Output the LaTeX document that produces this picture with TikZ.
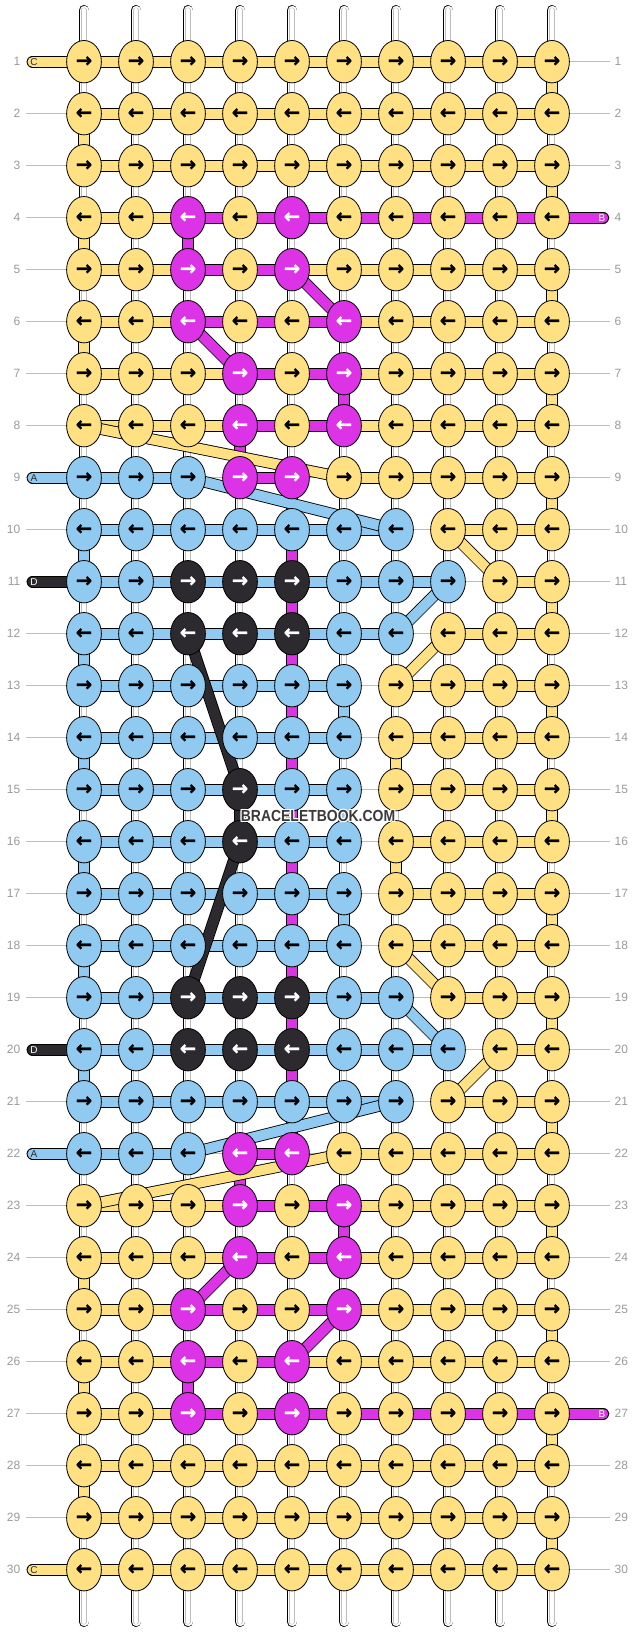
\documentclass[tikz,border=0pt]{standalone}
\usepackage{fontspec}
\setmainfont{Liberation Sans}
\newfontfamily\arw{DejaVu Sans}[BoldFeatures={FakeBold=1.3}]
\usetikzlibrary{shapes.geometric}
\definecolor{cy}{HTML}{FFE082}
\definecolor{cm}{HTML}{DC33E6}
\definecolor{cb}{HTML}{90CAF0}
\definecolor{ck}{HTML}{2C2A2E}
\definecolor{gl}{HTML}{BDBDBD}
\definecolor{gt}{HTML}{9A9A9A}
\definecolor{wmg}{HTML}{3A3A3A}
\pgfdeclarelayer{l0}\pgfdeclarelayer{l1}\pgfdeclarelayer{l2}\pgfdeclarelayer{l3}\pgfdeclarelayer{l4}
\pgfsetlayers{l0,l1,l2,l3,l4,main}
\begin{document}
\begin{tikzpicture}[x=1pt,y=-1pt,
  knot/.style={ellipse, draw=black, line width=0.8pt, minimum width=34.8pt, minimum height=42.4pt, inner sep=0pt, font=\arw\bfseries\fontsize{19.5}{19.5}\selectfont},
  ny/.style={knot, fill=cy, text=black},
  nm/.style={knot, fill=cm, text=white},
  nb/.style={knot, fill=cb, text=black},
  nk/.style={knot, fill=ck, text=white},
  band/.style={draw=black, line width=0.85pt, double distance=10pt},
  sy/.style={band, double=cy}, sm/.style={band, double=cm},
  sb/.style={band, double=cb}, sk/.style={band, double=ck},
  sn/.style={draw=none},
  warp/.style={draw=black, line width=0.85pt, double=white, double distance=9pt,
    postaction={draw=gl, line width=0.5pt, double=white, double distance=4.6pt}},
  rowline/.style={draw=gl, line width=0.8pt},
  rowno/.style={text=gt, font=\fontsize{12}{12}\selectfont, inner sep=0pt},
  tag/.style={font=\fontsize{10}{10}\selectfont, inner sep=0pt},
  wm/.style={inner sep=0pt, font=\bfseries\fontsize{16}{16}\selectfont}
]
\useasboundingbox (0,0) rectangle (636,1632);
\begin{pgfonlayer}{l0}
\fill[white] (0,0) rectangle (636,1632);
\end{pgfonlayer}

% ---------- knots ----------
\foreach \row [count=\r] in {
 {y,y,y,y,y,y,y,y,y,y},{y,y,y,y,y,y,y,y,y,y},{y,y,y,y,y,y,y,y,y,y},
 {y,y,m,y,m,y,y,y,y,y},{y,y,m,y,m,y,y,y,y,y},{y,y,m,y,y,m,y,y,y,y},
 {y,y,y,m,y,m,y,y,y,y},{y,y,y,m,y,m,y,y,y,y},{b,b,b,m,m,y,y,y,y,y},
 {b,b,b,b,b,b,b,y,y,y},{b,b,k,k,k,b,b,b,y,y},{b,b,k,k,k,b,b,y,y,y},
 {b,b,b,b,b,b,y,y,y,y},{b,b,b,b,b,b,y,y,y,y},{b,b,b,k,b,b,y,y,y,y},
 {b,b,b,k,b,b,y,y,y,y},{b,b,b,b,b,b,y,y,y,y},{b,b,b,b,b,b,y,y,y,y},
 {b,b,k,k,k,b,b,y,y,y},{b,b,k,k,k,b,b,b,y,y},{b,b,b,b,b,b,b,y,y,y},
 {b,b,b,m,m,y,y,y,y,y},{y,y,y,m,y,m,y,y,y,y},{y,y,y,m,y,m,y,y,y,y},
 {y,y,m,y,y,m,y,y,y,y},{y,y,m,y,m,y,y,y,y,y},{y,y,m,y,m,y,y,y,y,y},
 {y,y,y,y,y,y,y,y,y,y},{y,y,y,y,y,y,y,y,y,y},{y,y,y,y,y,y,y,y,y,y}}{
  \foreach \col [count=\c] in \row {
    \node[n\col] (k-\r-\c) at ({84+52*(\c-1)},{61.7+52*(\r-1)}) {\ifodd\r →\else ←\fi};
  }
  \coordinate (gl-\r) at (26,{61.7+52*(\r-1)});
  \coordinate (gr-\r) at (610,{61.7+52*(\r-1)});
  \node[rowno, anchor=east] (lab-l-\r) at (20.5,{61.7+52*(\r-1)}) {\r};
  \node[rowno, anchor=west] (lab-r-\r) at (614.5,{61.7+52*(\r-1)}) {\r};
}

% ---------- row guide lines ----------
\begin{pgfonlayer}{l0}
\foreach \r in {1,...,30} \draw[rowline] (gl-\r) -- (gr-\r);
\end{pgfonlayer}

% ---------- warp strings ----------
\foreach \c in {1,...,10}{
  \coordinate (wt-\c) at ({84+52*(\c-1)},10.3);
  \coordinate (wb-\c) at ({84+52*(\c-1)},1621.7);
}
\begin{pgfonlayer}{l1}
\foreach \c in {1,...,10}{
  \draw[warp, line cap=round] (wt-\c) -- (k-1-\c.center);
  \draw[warp, line cap=round] (k-30-\c.center) -- (wb-\c);
  \foreach \r in {1,...,29}{
    \pgfmathtruncatemacro\rn{\r+1}
    \draw[warp] (k-\r-\c.center) -- (k-\rn-\c.center);
  }
}
\end{pgfonlayer}

% ---------- coloured vertical passages ----------
\begin{pgfonlayer}{l2}
\foreach \r/\c/\k in {1/10/y,2/1/y,3/10/y,4/1/y,5/10/y,6/1/y,7/10/y,9/10/y,11/10/y,13/10/y,
  14/7/y,15/10/y,16/7/y,17/10/y,19/10/y,21/10/y,23/10/y,24/1/y,25/10/y,26/1/y,27/10/y,28/1/y,29/10/y,
  10/1/b,12/1/b,13/6/b,14/1/b,15/6/b,16/1/b,17/6/b,18/1/b,20/1/b,
  4/3/m,7/6/m,8/4/m,9/5/m,10/5/m,11/5/m,12/5/m,13/5/m,14/5/m,15/5/m,16/5/m,17/5/m,
  18/5/m,19/5/m,20/5/m,21/5/m,22/4/m,23/6/m,26/3/m,
  15/4/k}{
  \pgfmathtruncatemacro\rn{\r+1}
  \draw[s\k] (k-\r-\c.center) -- (k-\rn-\c.center);
}
\end{pgfonlayer}

% ---------- horizontal passages ----------
\begin{pgfonlayer}{l3}
\foreach \row [count=\r] in {
 {y,y,y,y,y,y,y,y,y},{y,y,y,y,y,y,y,y,y},{y,y,y,y,y,y,y,y,y},
 {y,y,m,m,m,m,m,m,m},{y,y,m,m,y,y,y,y,y},{y,y,m,m,m,y,y,y,y},
 {y,y,y,m,m,y,y,y,y},{y,y,y,m,m,y,y,y,y},{b,b,n,m,n,y,y,y,y},
 {b,b,b,b,b,b,n,y,y},{b,b,b,b,b,b,b,n,y},{b,b,b,b,b,b,n,y,y},
 {b,b,b,b,b,n,y,y,y},{b,b,b,b,b,n,y,y,y},{b,b,b,b,b,n,y,y,y},
 {b,b,b,b,b,n,y,y,y},{b,b,b,b,b,n,y,y,y},{b,b,b,b,b,n,y,y,y},
 {b,b,b,b,b,b,n,y,y},{b,b,b,b,b,b,b,n,y},{b,b,b,b,b,b,n,y,y},
 {b,b,n,m,n,y,y,y,y},{y,y,y,m,m,y,y,y,y},{y,y,y,m,m,y,y,y,y},
 {y,y,m,m,m,y,y,y,y},{y,y,m,m,y,y,y,y,y},{y,y,m,m,m,m,m,m,m},
 {y,y,y,y,y,y,y,y,y},{y,y,y,y,y,y,y,y,y},{y,y,y,y,y,y,y,y,y}}{
  \foreach \col [count=\c] in \row {
    \pgfmathtruncatemacro\cn{\c+1}
    \draw[s\col] (k-\r-\c.center) -- (k-\r-\cn.center);
  }
}
\end{pgfonlayer}

% ---------- diagonal passages and thread ends ----------
\foreach \r in {1,9,11,20,22,30} \coordinate (ls-\r) at (32.5,{61.7+52*(\r-1)});
\foreach \r in {4,27} \coordinate (rs-\r) at (603.2,{61.7+52*(\r-1)});
\begin{pgfonlayer}{l4}
\foreach \ra/\ca/\rb/\cc/\k in {5/5/6/6/m,6/3/7/4/m,24/4/25/3/m,25/6/26/5/m,
  8/1/9/6/y,10/8/11/9/y,12/8/13/7/y,18/7/19/8/y,20/9/21/8/y,23/1/22/6/y,
  9/3/10/7/b,11/8/12/7/b,19/7/20/8/b,21/7/22/3/b,
  12/3/15/4/k,16/4/19/3/k}{
  \draw[s\k] (k-\ra-\ca.center) -- (k-\rb-\cc.center);
}
\foreach \r/\k in {1/y,9/b,11/k,20/k,22/b,30/y}
  \draw[s\k, line cap=round] (ls-\r) -- (k-\r-1.center);
\foreach \r in {4,27}
  \draw[sm, line cap=round] (k-\r-10.center) -- (rs-\r);
\end{pgfonlayer}

% ---------- thread letters ----------
\foreach \r/\t/\tc in {1/C/ck,30/C/ck,9/A/ck,22/A/ck,11/D/white,20/D/white}
  \node[tag, text=\tc] (tag-\r) at ([xshift=1.5pt]ls-\r) {\t};
\foreach \r in {4,27}
  \node[tag, text=white] (tag-\r) at ([xshift=-1.2pt]rs-\r) {B};

% ---------- watermark ----------
\foreach \dx/\dy [count=\i] in {-1/0,1/0,0/-1,0/1,-1/-1,1/1,-1/1,1/-1}
  \node[wm, text=white] (halo-\i) at (318+\dx,816+\dy) {\scalebox{0.872}[1]{BRACELETBOOK.COM}};
\node[wm, text=wmg] (mark) at (318,816) {\scalebox{0.872}[1]{BRACELETBOOK.COM}};
\end{tikzpicture}
\end{document}
